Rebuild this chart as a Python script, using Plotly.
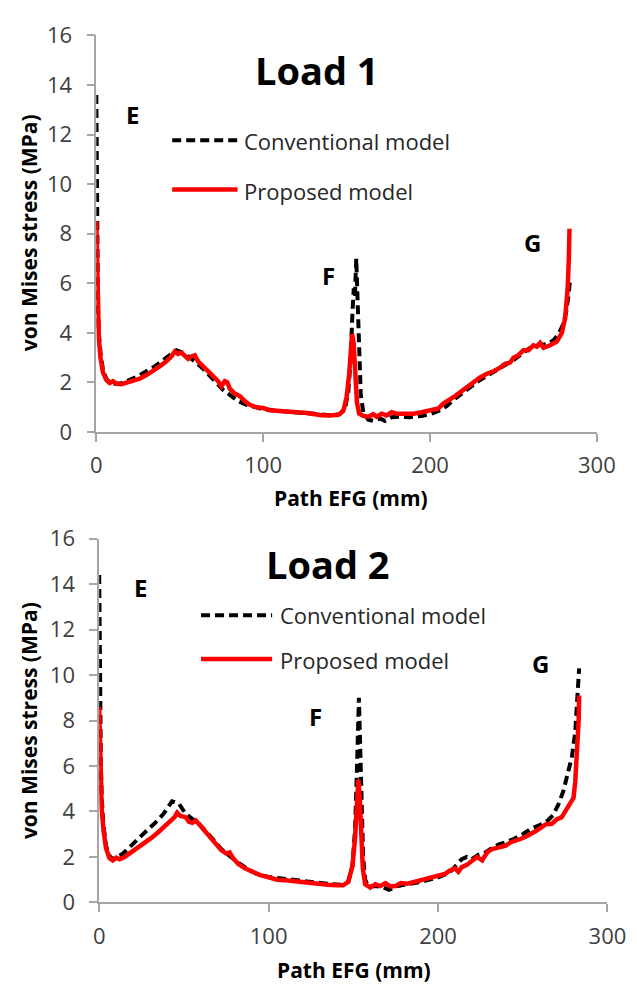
import plotly.graph_objects as go

# ---------------- Data ----------------
# Load 1
l1_conv_x = [0, 0.3, 0.6, 1, 1.5, 2.5, 4, 6, 8, 11, 15, 20, 25, 30, 35, 40, 44, 48, 52, 56, 60, 64, 68, 72, 76, 80,
             85, 90, 95, 100, 110, 120, 130, 140, 146, 149, 151, 152.5, 153.5, 154.3, 155, 155.8, 156.5, 157.5,
             158.5, 160, 163, 166, 170, 173, 177, 182, 188, 195, 200, 205, 210, 215, 220, 225, 230, 235, 240,
             245, 250, 255, 260, 265, 270, 274, 277, 279.5, 281.5, 283, 284]
l1_conv_y = [13.6, 10, 7, 5, 4, 3.2, 2.5, 2.15, 2.0, 1.95, 1.97, 2.1, 2.25, 2.45, 2.65, 2.9, 3.1, 3.3, 3.2, 3.0,
             2.8, 2.55, 2.25, 1.95, 1.7, 1.5, 1.25, 1.1, 1.0, 0.92, 0.85, 0.8, 0.72, 0.68, 0.72, 0.95, 1.6, 3.0,
             4.8, 5.8, 5.5, 7.0, 5.5, 3.0, 1.5, 0.8, 0.5, 0.45, 0.55, 0.45, 0.6, 0.62, 0.6, 0.65, 0.72, 0.85,
             1.05, 1.35, 1.6, 1.85, 2.1, 2.3, 2.5, 2.7, 2.9, 3.15, 3.4, 3.5, 3.55, 3.7, 3.95, 4.3, 4.8, 5.5, 6.2]

l1_prop_x = [0, 0.3, 0.6, 1, 1.5, 2.5, 4, 6, 8, 10, 12, 15, 18, 22, 26, 30, 34, 38, 42, 45, 47, 49, 51, 53, 55,
             57, 59, 61, 64, 67, 70, 73, 75, 77, 78.5, 80, 83, 86, 89, 92, 96, 100, 104, 108, 112, 116, 120, 125,
             130, 135, 140, 145, 148, 150, 151.5, 152.5, 153.3, 154.2, 155.2, 156.2, 157.5, 160, 163, 166, 168,
             171, 174, 177, 180, 185, 190, 195, 200, 205, 208, 212, 215, 218, 222, 226, 230, 234, 238, 242, 245,
             248, 250, 253, 256, 259, 262, 264, 266, 268, 272, 276, 279, 281, 282.5, 283.2, 283.6]
l1_prop_y = [8.5, 7, 5.8, 4.6, 3.8, 3.0, 2.4, 2.1, 1.98, 2.05, 1.95, 1.93, 2.0, 2.05, 2.15, 2.3, 2.45, 2.65, 2.85,
             3.05, 3.25, 3.15, 3.2, 3.1, 2.95, 3.05, 3.1, 2.85, 2.65, 2.45, 2.25, 2.05, 1.85, 2.05, 2.0, 1.75,
             1.55, 1.45, 1.25, 1.1, 1.0, 0.97, 0.88, 0.87, 0.85, 0.83, 0.8, 0.78, 0.72, 0.68, 0.67, 0.7, 0.85,
             1.4, 2.3, 3.4, 3.95, 3.6, 2.3, 1.2, 0.75, 0.65, 0.62, 0.72, 0.62, 0.74, 0.67, 0.8, 0.74, 0.72, 0.74,
             0.8, 0.86, 0.95, 1.15, 1.3, 1.45, 1.6, 1.8, 2.05, 2.2, 2.35, 2.45, 2.6, 2.75, 2.8, 3.0, 3.1, 3.3,
             3.3, 3.5, 3.45, 3.6, 3.4, 3.5, 3.65, 4.0, 4.6, 5.8, 7.0, 8.2]

# Load 2
l2_conv_x = [0, 0.3, 0.6, 1, 1.5, 2.5, 4, 6, 8, 11, 14, 18, 23, 28, 33, 38, 43, 47, 51, 55, 59, 64, 68, 72, 77,
             82, 88, 93, 100, 108, 115, 122, 130, 137, 143, 147, 149.5, 151, 152, 152.8, 153.3, 154, 154.8,
             155.8, 157, 159, 163, 167, 171, 175, 180, 185, 190, 195, 200, 205, 208, 211, 214, 217, 220, 224,
             228, 232, 236, 240, 245, 250, 255, 260, 264, 268, 271, 274, 276.5, 279, 281, 282.5, 283.3]
l2_conv_y = [14.4, 11, 8, 6, 4.6, 3.4, 2.5, 2.05, 1.9, 2.0, 2.15, 2.45, 2.8, 3.15, 3.5, 3.9, 4.45, 4.35, 3.9,
             3.65, 3.45, 3.05, 2.7, 2.35, 2.05, 1.75, 1.45, 1.25, 1.12, 1.05, 1.0, 0.92, 0.85, 0.8, 0.78, 0.9,
             1.6, 3.2, 5.5, 7.5, 9.0, 7.0, 4.5, 2.0, 1.0, 0.7, 0.72, 0.68, 0.55, 0.7, 0.78, 0.82, 0.9, 1.0, 1.1,
             1.25, 1.4, 1.65, 1.9, 2.0, 1.9, 2.1, 2.2, 2.4, 2.55, 2.65, 2.8, 3.0, 3.25, 3.4, 3.55, 3.85, 4.3,
             4.9, 5.6, 6.4, 7.5, 9.0, 10.3]

l2_prop_x = [0, 0.3, 0.6, 1, 1.5, 2.5, 4, 6, 8, 10, 12, 15, 19, 23, 27, 31, 35, 39, 42, 44.5, 46, 48, 51, 53, 55,
             57, 60, 63, 66, 69, 72, 75, 77, 79, 82, 86, 90, 95, 100, 105, 110, 115, 120, 125, 130, 135, 140,
             144, 147, 149.5, 151, 152, 153, 153.8, 154.6, 155.6, 157, 160, 163, 166, 169, 172, 175, 178, 182,
             186, 190, 195, 200, 204, 207, 210, 212, 214, 217, 220, 223, 226, 229, 232, 236, 240, 243, 246, 249,
             252, 255, 258, 261, 264, 267, 270, 273, 276, 278, 280, 281, 282, 283, 283.3]
l2_prop_y = [8.6, 7.2, 6, 5, 4.1, 3.2, 2.4, 1.95, 1.85, 1.97, 1.9, 2.0, 2.2, 2.4, 2.6, 2.85, 3.1, 3.35, 3.6, 3.75,
             3.95, 3.8, 3.75, 3.55, 3.5, 3.6, 3.35, 3.1, 2.85, 2.55, 2.3, 2.15, 2.2, 1.95, 1.7, 1.5, 1.35, 1.2,
             1.1, 1.0, 0.98, 0.93, 0.9, 0.85, 0.8, 0.78, 0.75, 0.75, 0.9, 1.6, 2.8, 4.2, 5.4, 4.6, 3.0, 1.5, 0.8,
             0.65, 0.8, 0.72, 0.85, 0.7, 0.72, 0.85, 0.82, 0.9, 0.95, 1.05, 1.15, 1.25, 1.4, 1.5, 1.35, 1.55,
             1.65, 1.8, 2.0, 1.85, 2.2, 2.35, 2.45, 2.5, 2.65, 2.7, 2.8, 2.9, 3.0, 3.15, 3.3, 3.45, 3.45, 3.65,
             3.75, 4.1, 4.3, 4.6, 5.3, 6.5, 8.0, 9.1]

y_ticks = [0, 2, 4, 6, 8, 10, 12, 14, 16]
x_ticks = [0, 100, 200, 300]
series_names = ["Conventional model", "Proposed model"]
titles = ["Load 1", "Load 2"]
x_title = "Path EFG (mm)"
y_title = "von Mises stress (MPa)"

# ---------------- Figure ----------------
W, H = 637, 994
def px(x): return x / W
def py(y): return 1 - y / H

fig = go.Figure()
DASH = "9px,5px"
fig.add_trace(go.Scatter(x=l1_conv_x, y=l1_conv_y, mode="lines", xaxis="x", yaxis="y",
                         line=dict(color="black", width=4, dash=DASH), name=series_names[0], showlegend=False))
fig.add_trace(go.Scatter(x=l1_prop_x, y=l1_prop_y, mode="lines", xaxis="x", yaxis="y",
                         line=dict(color="#ff0000", width=4.5), name=series_names[1], showlegend=False))
fig.add_trace(go.Scatter(x=l2_conv_x, y=l2_conv_y, mode="lines", xaxis="x2", yaxis="y2",
                         line=dict(color="black", width=4, dash=DASH), name=series_names[0], showlegend=False))
fig.add_trace(go.Scatter(x=l2_prop_x, y=l2_prop_y, mode="lines", xaxis="x2", yaxis="y2",
                         line=dict(color="#ff0000", width=4.5), name=series_names[1], showlegend=False))

TICKFONT = dict(family="Open Sans, sans-serif", size=22, color="#404040")
AXCOL = "#a6a6a6"
common_x = dict(range=[0, 300], tickvals=x_ticks, showgrid=False, zeroline=False, showline=True,
                linecolor=AXCOL, linewidth=1.5, ticks="outside", ticklen=8, tickcolor=AXCOL, tickwidth=1.5,
                tickfont=TICKFONT, ticklabelstandoff=5)
common_y = dict(range=[0, 16], tickvals=y_ticks, showgrid=False, zeroline=False, showline=True,
                linecolor=AXCOL, linewidth=1.5, ticks="outside", ticklen=8, tickcolor=AXCOL, tickwidth=1.5,
                tickfont=TICKFONT, ticklabelstandoff=10)

fig.update_layout(
    width=W, height=H, margin=dict(l=0, r=0, t=0, b=0),
    paper_bgcolor="white", plot_bgcolor="white", showlegend=False,
    xaxis=dict(domain=[px(94), px(615)], anchor="y", **common_x),
    yaxis=dict(domain=[py(429), py(20)], anchor="x", **common_y),
    xaxis2=dict(domain=[px(97), px(626)], anchor="y2", **common_x),
    yaxis2=dict(domain=[py(914), py(539)], anchor="x2", **common_y),
)

BOLD = "Open Sans, sans-serif"
ann = []
def text(x, y, s, size, bold=False, color="black", xanchor="center", angle=0):
    ann.append(dict(x=px(x), y=py(y), xref="paper", yref="paper", text=(f"<b>{s}</b>" if bold else s),
                    showarrow=False, xanchor=xanchor, yanchor="middle", textangle=angle,
                    font=dict(family=BOLD, size=size, color=color)))

# Titles
text(324, 56, titles[0], 38, bold=True)
text(335, 565, titles[1], 38, bold=True)
# Axis titles
text(24, 224, y_title, 21, bold=True, angle=-90)
text(24, 727, y_title, 21, bold=True, angle=-90)
text(359, 497, x_title, 21, bold=True)
text(362, 984, x_title, 21, bold=True)
# Point labels
for (x, y, s) in [(132, 102, "E"), (336, 268, "F"), (548, 234, "G"),
                  (140, 589, "E"), (322, 722, "F"), (556, 668, "G")]:
    text(x, y, s, 24, bold=True)
# Legend text
text(246, 129, series_names[0], 22, color="#262626", xanchor="left")
text(246, 180, series_names[1], 22, color="#262626", xanchor="left")
text(283, 618, series_names[0], 22, color="#262626", xanchor="left")
text(283, 664, series_names[1], 22, color="#262626", xanchor="left")
fig.update_layout(annotations=ann)

shapes = []
def leg_line(x0, x1, y, dashed):
    shapes.append(dict(type="line", xref="paper", yref="paper", x0=px(x0), x1=px(x1), y0=py(y), y1=py(y),
                       line=dict(color="black" if dashed else "#ff0000", width=4 if dashed else 4.5,
                                 dash=DASH if dashed else "solid")))
leg_line(173, 241, 128, True)
leg_line(173, 241, 179, False)
leg_line(203, 277, 618, True)
leg_line(203, 277, 663, False)
fig.update_layout(shapes=shapes)

fig.write_html("out.html")
